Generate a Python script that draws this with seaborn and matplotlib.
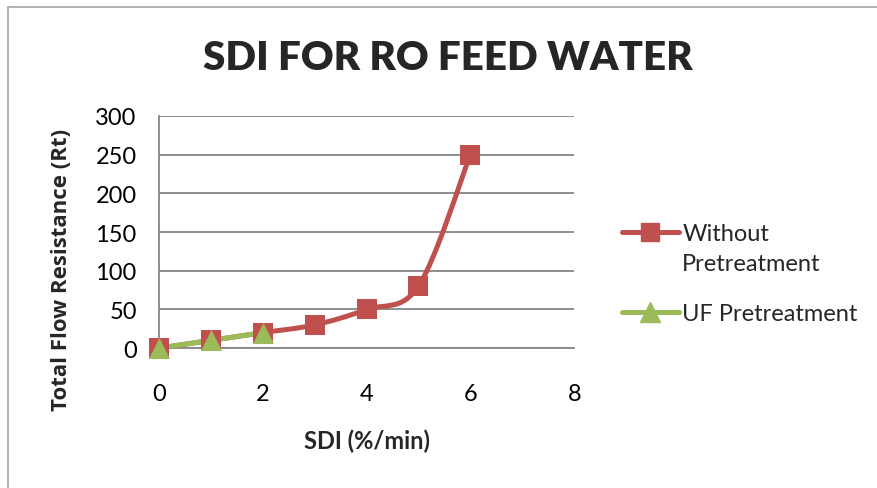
import numpy as np
import matplotlib
matplotlib.use("Agg")
import matplotlib.pyplot as plt
import seaborn as sns
import pandas as pd
from matplotlib.path import Path
from matplotlib.patches import PathPatch
from matplotlib.lines import Line2D

# data
sdi_without = [0, 1, 2, 3, 4, 5, 6]
rt_without = [0, 10, 20, 30, 50, 80, 250]
sdi_uf = [0, 1, 2]
rt_uf = [0, 10, 20]
series_names = ["Without\nPretreatment", "UF Pretreatment"]
x_ticks = [0, 2, 4, 6, 8]
y_ticks = [0, 50, 100, 150, 200, 250, 300]

RED = "#C0504D"
GREEN = "#9BBB59"
GRID = "#868686"

sns.set_theme(style="white")
plt.rcParams["font.family"] = ["Lato", "DejaVu Sans"]


def smooth_path(xs, ys):
    """Excel-like smoothed line as cubic Bezier segments (Catmull-Rom)."""
    pts = np.column_stack([xs, ys]).astype(float)
    verts = [pts[0]]
    codes = [Path.MOVETO]
    n = len(pts)
    for i in range(n - 1):
        p0 = pts[max(i - 1, 0)]
        p1 = pts[i]
        p2 = pts[i + 1]
        p3 = pts[min(i + 2, n - 1)]
        c1 = p1 + (p2 - p0) / 6.0
        c2 = p2 - (p3 - p1) / 6.0
        verts += [c1, c2, p2]
        codes += [Path.CURVE4] * 3
    return Path(verts, codes)


df_without = pd.DataFrame({"SDI": sdi_without, "Rt": rt_without})
df_uf = pd.DataFrame({"SDI": sdi_uf, "Rt": rt_uf})

fig = plt.figure(figsize=(8.78, 4.89), dpi=100)
ax = fig.add_axes([0.181, 0.286, 0.473, 0.475])

for df, color in [(df_without, RED), (df_uf, GREEN)]:
    ax.add_patch(PathPatch(smooth_path(df["SDI"], df["Rt"]), facecolor="none",
                           edgecolor=color, lw=3.6, capstyle="round",
                           joinstyle="round", zorder=3))

sns.scatterplot(data=df_without, x="SDI", y="Rt", marker="s", s=190,
                color=RED, edgecolor=RED, linewidth=0, ax=ax, zorder=4,
                clip_on=False)
sns.scatterplot(data=df_uf, x="SDI", y="Rt", marker="^", s=230,
                color=GREEN, edgecolor=GREEN, linewidth=0, ax=ax, zorder=5,
                clip_on=False)

ax.set_xlim(0, 8)
ax.set_ylim(0, 300)
ax.set_xticks(x_ticks)
ax.set_yticks(y_ticks)
ax.yaxis.grid(True, color=GRID, lw=1.3)
ax.xaxis.grid(False)
for side in ["top", "right"]:
    ax.spines[side].set_visible(False)
ax.spines["left"].set_color(GRID)
ax.spines["left"].set_linewidth(1.3)
ax.spines["bottom"].set_color(GRID)
ax.spines["bottom"].set_linewidth(1.3)
ax.tick_params(axis="x", labelsize=17, pad=25, length=0, colors="black")
ax.tick_params(axis="y", labelsize=17, pad=16, length=0, colors="black")

ax.set_xlabel("SDI (%/min)", fontsize=17, fontweight="bold", labelpad=18)
ax.set_ylabel("Total Flow Resistance (Rt)", fontsize=16, fontweight="bold",
              family=["Open Sans", "DejaVu Sans"], labelpad=12)
ax.yaxis.set_label_coords(-0.21, 0.34)
fig.text(0.51, 0.88, "SDI FOR RO FEED WATER", fontsize=29, fontweight="heavy",
         ha="center", va="center")

# legend, laid out like the Excel one (marker beside the first text line)
leg_x0, leg_x1, leg_text_x = 0.708, 0.773, 0.777
leg_rows = [1 - 233 / 489, 1 - 313 / 489]
legend_items = [(series_names[0], RED, "s", 13), (series_names[1], GREEN, "^", 15)]
for (name, color, marker, ms), y in zip(legend_items, leg_rows):
    fig.add_artist(Line2D([leg_x0, leg_x1], [y, y], color=color, lw=3.6,
                          solid_capstyle="round", transform=fig.transFigure))
    fig.add_artist(Line2D([(leg_x0 + leg_x1) / 2], [y], color=color,
                          marker=marker, markersize=ms, lw=0,
                          transform=fig.transFigure))
    fig.text(leg_text_x, y + 0.019, name, fontsize=17, ha="left", va="top",
             linespacing=1.55)

# outer chart frame (top and left edges visible in the reference)
fig.add_artist(Line2D([0.009, 0.009], [0.0, 0.984], color="#A6A6A6", lw=1.2,
                      transform=fig.transFigure))
fig.add_artist(Line2D([0.009, 1.0], [0.984, 0.984], color="#A6A6A6", lw=1.2,
                      transform=fig.transFigure))

fig.savefig("out.png", dpi=100, facecolor="white")
